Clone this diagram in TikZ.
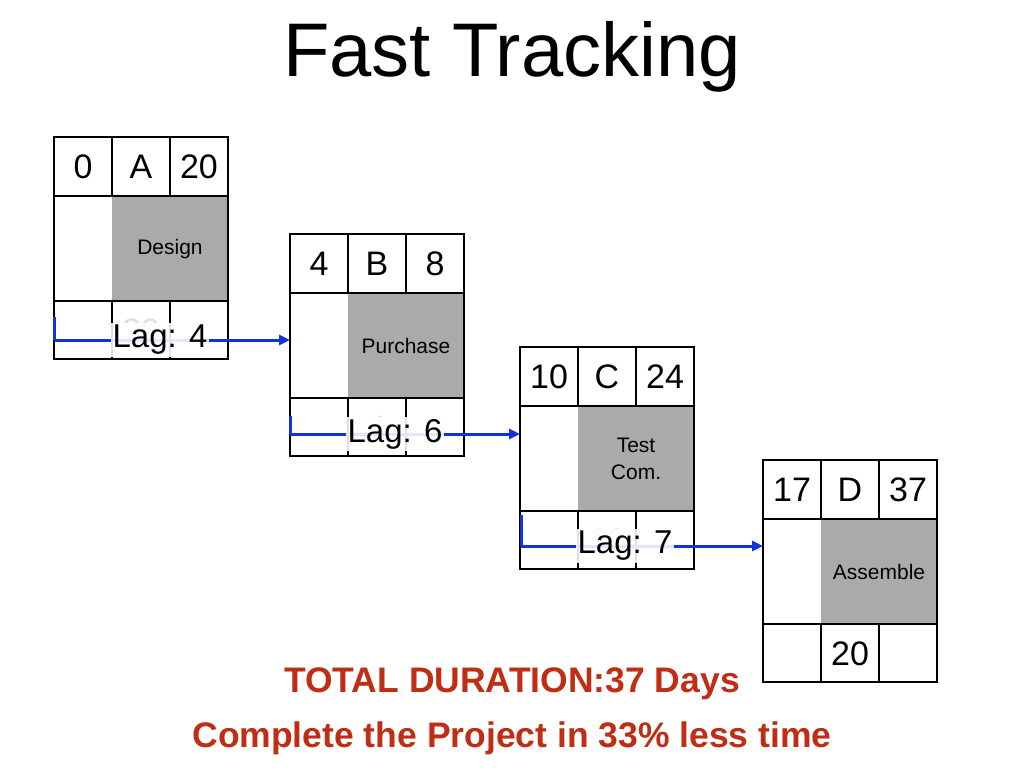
\documentclass[tikz,border=0pt]{standalone}
\usepackage{fontspec}
\setmainfont{Liberation Sans}
\usetikzlibrary{arrows.meta}
\definecolor{lagblue}{RGB}{20,50,220}
\definecolor{darkred}{RGB}{190,45,20}
\definecolor{boxgray}{RGB}{170,170,170}
\tikzset{
 cellnum/.style={font=\fontsize{34}{34}\selectfont},
 fadenum/.style={font=\fontsize{34}{34}\selectfont,text=black!12},
 tasklbl/.style={font=\fontsize{21}{27}\selectfont,align=center},
 lagline/.style={draw=lagblue,line width=3pt},
 lagarrow/.style={lagline,-{Triangle[length=11pt,width=10pt]}},
 laglbl/.style={font=\fontsize{33}{33}\selectfont,fill=white,fill opacity=0.88,text opacity=1,inner sep=2pt},
 redtxt/.style={font=\bfseries\fontsize{35.5}{35.5}\selectfont,text=darkred},
 grid/.style={draw=black,line width=2pt}
}
\newcommand{\actbox}[9]{% x y es name ef label dur faded id
 \fill[boxgray] (#1+58,#2+59) rectangle (#1+174,#2+164);
 \draw[grid] (#1,#2) rectangle (#1+174,#2+222);
 \draw[grid] (#1,#2+59) -- (#1+174,#2+59);
 \draw[grid] (#1,#2+164) -- (#1+174,#2+164);
 \draw[grid] (#1+58,#2) -- (#1+58,#2+59) (#1+116,#2) -- (#1+116,#2+59);
 \draw[grid] (#1+58,#2+164) -- (#1+58,#2+222) (#1+116,#2+164) -- (#1+116,#2+222);
 \node[cellnum] (#9es) at (#1+29,#2+30) {#3};
 \node[cellnum] (#9nm) at (#1+87,#2+30) {#4};
 \node[cellnum] (#9ef) at (#1+145,#2+30) {#5};
 \node[tasklbl] (#9lb) at (#1+116,#2+112) {#6};
 \node[#8] (#9du) at (#1+87,#2+194) {#7};
 \coordinate (#9L) at (#1,#2+111);
}
\begin{document}
\begin{tikzpicture}[x=1pt,y=-1pt]
\useasboundingbox (0,0) rectangle (1024,769);
\node[font=\fontsize{76}{76}\selectfont] (title) at (512,57) {Fast Tracking};
\actbox{54}{137}{0}{A}{20}{Design}{20}{fadenum}{a}
\actbox{290}{234}{4}{B}{8}{Purchase}{4}{fadenum}{b}
\actbox{520}{347}{10}{C}{24}{Test\\Com.}{12}{fadenum}{c}
\actbox{763}{460}{17}{D}{37}{Assemble}{20}{cellnum}{d}
\coordinate (a1) at (54,317); \coordinate (a2) at (54,340);
\coordinate (b1) at (290,416); \coordinate (b2) at (290,434);
\coordinate (c1) at (521,515); \coordinate (c2) at (521,546);
\draw[lagline] (a1) -- (a2);
\draw[lagarrow] (a2) -- (a2 -| bL);
\node[laglbl] (lagA) at (160,340) {Lag: 4};
\draw[lagline] (b1) -- (b2);
\draw[lagarrow] (b2) -- (b2 -| cL);
\node[laglbl] (lagB) at (395,434) {Lag: 6};
\draw[lagline] (c1) -- (c2);
\draw[lagarrow] (c2) -- (c2 -| dL);
\node[laglbl] (lagC) at (625,546) {Lag: 7};
\node[redtxt] (tot) at (512,684) {TOTAL DURATION:37 Days};
\node[redtxt] (cmp) at (512,738) {Complete the Project in 33\% less time};
\end{tikzpicture}
\end{document}
